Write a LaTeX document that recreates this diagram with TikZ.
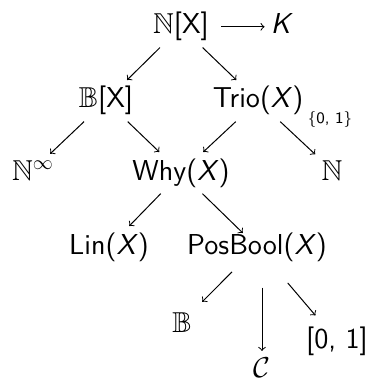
\documentclass[tikz,border=0pt]{standalone}
\usepackage{amssymb}
\begin{document}
\begin{tikzpicture}[x=0.5pt,y=-0.5pt,
		obj/.style={anchor=base, inner sep=3pt, font=\sffamily\fontsize{14.4}{17}\selectfont},
		mor/.style={->, >=to, line width=0.5pt}]
			\useasboundingbox (0,0) rectangle (366,379);
			\draw (181,34) node[obj] (NX) {$\mathbb{N}$[X]};
			\draw (282,34) node[obj] (K) {\textit{K}};
			\draw (106,108) node[obj] (BX) {$\mathbb{B}$[X]};
			\draw (258,108) node[obj] (Trio) {Trio(\textit{X})};
			\draw (33,180) node[obj] (Ninf) {$\mathbb{N}^{\infty}$};
			\draw (181,180) node[obj] (Why) {Why(\textit{X})};
			\draw (332,180) node[obj] (Nat) {$\mathbb{N}$};
			\draw (109,254) node[obj] (Lin) {Lin(\textit{X})};
			\draw (257,254) node[obj] (PB) {PosBool(\textit{X})};
			\draw (182,332) node[obj] (B) {$\mathbb{B}$};
			\draw (337,348) node[obj] (I) {[0, 1]};
			\draw (262,377) node[obj] (C) {$\mathcal{C}$};
			\draw (330,120) node[inner sep=0pt, font=\sffamily\fontsize{8}{9}\selectfont] (Bool) {\{0, 1\}};
			\draw[mor, shorten <=3pt] (NX.east) to (NX.east -| K.west);
			\draw[mor] (NX) to (BX);
			\draw[mor] (NX) to (Trio);
			\draw[mor] (BX) to (Ninf);
			\draw[mor] (BX) to (Why);
			\draw[mor] (Trio) to (Why);
			\draw[mor] (Trio) to (Nat);
			\draw[mor] (Why) to (Lin);
			\draw[mor, shorten >=-5pt] (Why) to (PB);
			\draw[mor, shorten <=3pt, shorten >=3pt] (PB) to (B);
			\draw[mor, shorten <=10pt] (C |- PB.south) to (C);
			\draw[mor, shorten <=10pt, shorten >=3pt] (PB) to (I);
		\end{tikzpicture}
\end{document}
